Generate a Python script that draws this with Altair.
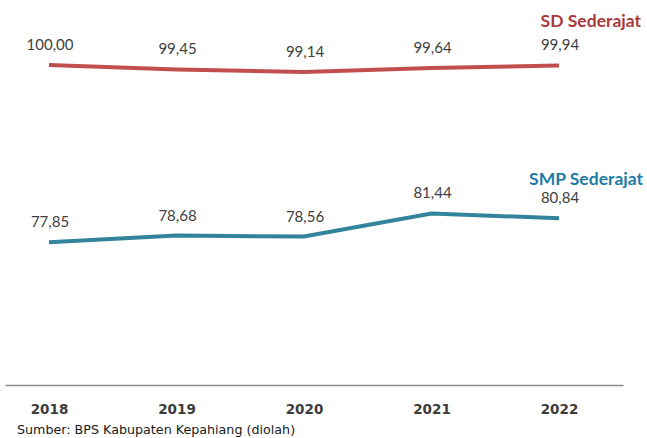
import altair as alt
import pandas as pd

years = [2018, 2019, 2020, 2021, 2022]
sd_values = [100.00, 99.45, 99.14, 99.64, 99.94]
smp_values = [77.85, 78.68, 78.56, 81.44, 80.84]
sd_name = "SD Sederajat"
smp_name = "SMP Sederajat"
source_note = "Sumber:  BPS Kabupaten Kepahiang (diolah)"

def fmt(v):
    return f"{v:.2f}".replace(".", ",")

df = pd.DataFrame(
    [{"year": y, "value": v, "series": sd_name, "label": fmt(v)} for y, v in zip(years, sd_values)]
    + [{"year": y, "value": v, "series": smp_name, "label": fmt(v)} for y, v in zip(years, smp_values)]
)

x = alt.X("year:Q", scale=alt.Scale(domain=[2017.655, 2022.502], nice=False, zero=False),
          axis=alt.Axis(values=years, format="d", title=None, grid=False, ticks=False,
                        domainColor="#8c8c8c", domainWidth=1.5, labelFont="DejaVu Sans",
                        labelFontSize=13.5, labelFontWeight="bold", labelColor="#3c3c3c", labelPadding=17))
y = alt.Y("value:Q", scale=alt.Scale(domain=[60, 108.125], nice=False, zero=False), axis=None)
color = alt.Color("series:N", scale=alt.Scale(domain=[sd_name, smp_name], range=["#C24F4F", "#31849B"]), legend=None)

base = alt.Chart(df)
lines = base.mark_line(strokeWidth=4, interpolate="linear").encode(x=x, y=y, color=color)
labels = base.mark_text(dy=-20, dx=1, font="Lato", fontSize=15, color="#404040").encode(x=x, y=y, text="label:N")

sd_df = pd.DataFrame([{"year": years[-1], "value": sd_values[-1], "name": sd_name}])
smp_df = pd.DataFrame([{"year": years[-1], "value": smp_values[-1], "name": smp_name}])
sd_title = alt.Chart(sd_df).mark_text(align="right", dx=82, dy=-43, font="Lato", fontSize=17.5,
                                     fontWeight="bold", color="#A83A3C").encode(x=x, y=y, text="name:N")
smp_title = alt.Chart(smp_df).mark_text(align="right", dx=84, dy=-38, font="Lato", fontSize=17.5,
                                       fontWeight="bold", color="#1F7BA6").encode(x=x, y=y, text="name:N")

src = alt.Chart(pd.DataFrame([{"t": source_note}])).mark_text(
    align="left", baseline="middle", font="DejaVu Sans", fontSize=12.7, fontWeight=500,
    color="#1a1a1a").encode(x=alt.value(12), y=alt.value(430), text="t:N")

chart = alt.layer(lines, labels, sd_title, smp_title, src).properties(
    width=618, height=385, autosize=alt.AutoSizeParams(type="none"),
    padding={"left": 5, "top": 0, "right": 24, "bottom": 53}
).configure(background="white").configure_view(stroke=None)

chart.save("out.html", embed_options={"renderer": "svg", "actions": False})
